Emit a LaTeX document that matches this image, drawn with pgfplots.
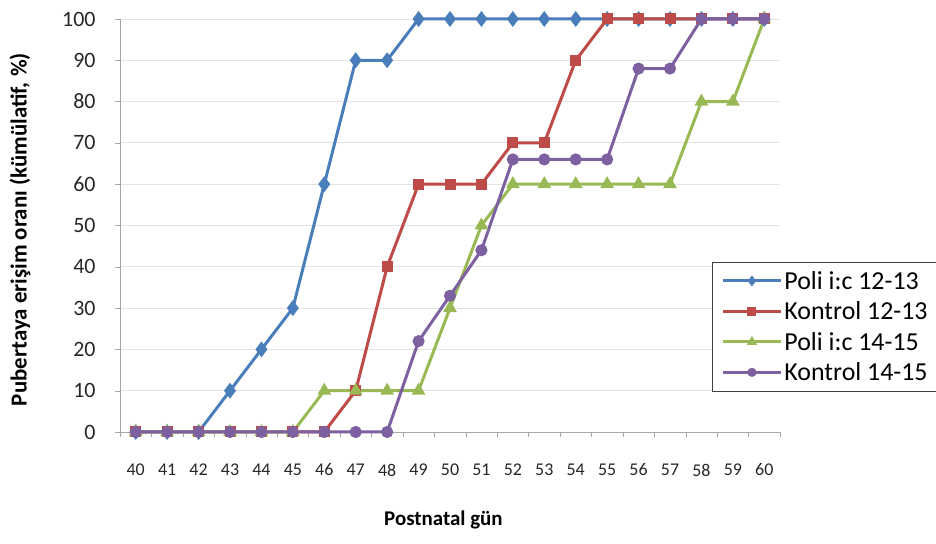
\documentclass[border=0pt]{standalone}
\usepackage{pgfplots}
\pgfplotsset{compat=1.18}
\usepackage{pgfplotstable}
\usepackage{fontspec}
\setmainfont{Carlito}

\definecolor{serblue}{HTML}{4A7EBB}
\definecolor{serred}{HTML}{BE4B48}
\definecolor{sergreen}{HTML}{98B954}
\definecolor{serpurple}{HTML}{7D60A0}

% cumulative share reaching puberty, by postnatal day
\pgfplotstableread{
day  pa   ka   pb   kb
40   0    0    0    0
41   0    0    0    0
42   0    0    0    0
43   10   0    0    0
44   20   0    0    0
45   30   0    0    0
46   60   0    10   0
47   90   10   10   0
48   90   40   10   0
49   100  60   10   22
50   100  60   30   33
51   100  60   50   44
52   100  70   60   66
53   100  70   60   66
54   100  90   60   66
55   100  100  60   66
56   100  100  60   88
57   100  100  60   88
58   100  100  80   100
59   100  100  80   100
60   100  100  100  100
}\puberty

\begin{document}
\begin{tikzpicture}[x=1bp,y=1bp]
\useasboundingbox (-120,-112) rectangle (816,432);
\begin{axis}[
  at={(0,0)}, anchor=south west,
  width=660bp, height=413bp, scale only axis,
  xmin=39.5, xmax=60.5, ymin=0, ymax=100,
  xtick={40,...,60}, ytick={0,10,...,100},
  minor xtick={39.5,40.5,...,60.5},
  axis x line*=bottom, axis y line*=left,
  axis line style={draw=gray!70, line width=0.8bp},
  ymajorgrids, major grid style={draw=gray!22, line width=0.8bp},
  tick align=outside,
  major tick length=5bp, minor tick length=5bp,
  major x tick style={draw=none},
  minor x tick style={draw=gray!70},
  major y tick style={draw=gray!70},
  /pgf/number format/assume math mode=true,
  ticklabel style={text=black!85},
  xticklabel style={font=\fontsize{18}{18}\selectfont, anchor=center, yshift=-33bp},
  yticklabel style={font=\fontsize{22}{22}\selectfont, anchor=east, xshift=-16bp},
  every axis x label/.style={at={(axis description cs:0.49,0)}, anchor=center, yshift=-88bp},
  every axis y label/.style={at={(axis description cs:-0.1515,0.49)}, rotate=90, anchor=center},
  xlabel style={font=\fontsize{21}{21}\selectfont\bfseries},
  ylabel style={font=\fontsize{23}{23}\selectfont\bfseries},
  xlabel={Postnatal gün},
  ylabel={Pubertaya erişim oranı (kümülatif, \%)},
  clip=false,
  every axis plot/.append style={line width=3bp, mark size=4.5bp, mark options={solid}},
  legend style={at={(0.897,0.412)}, anchor=north west, draw=black!75, line width=0.8bp,
    fill=white, font=\fontsize{26}{30}\selectfont, row sep=7bp,
    inner xsep=9bp, inner ysep=7bp},
  legend cell align=left,
  legend image code/.code={\draw[mark repeat=2, mark phase=2, mark size=3bp]
    plot coordinates {(0bp,0bp) (29bp,0bp) (58bp,0bp)};},
]
\addplot[color=serblue, mark=diamond*, mark size=5.5bp] table[x=day, y=pa] {\puberty};
\addlegendentry{Poli i:c 12-13}
\addplot[color=serred, mark=square*, mark size=4bp] table[x=day, y=ka] {\puberty};
\addlegendentry{Kontrol 12-13}
\addplot[color=sergreen, mark=triangle*, mark size=5bp] table[x=day, y=pb] {\puberty};
\addlegendentry{Poli i:c 14-15}
\addplot[color=serpurple, mark=*] table[x=day, y=kb] {\puberty};
\addlegendentry{Kontrol 14-15}
\end{axis}
\end{tikzpicture}
\end{document}
